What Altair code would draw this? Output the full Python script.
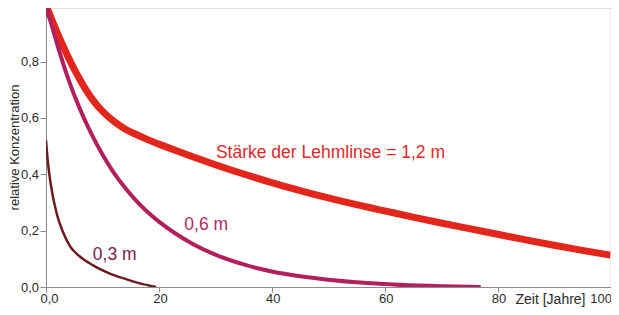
import altair as alt
import pandas as pd

# Stärke der Lehmlinse = 1,2 m
red_t = [0, 1, 2, 3, 4, 5, 6, 7, 8, 9, 10, 12, 14, 16, 18, 20, 23, 26, 30, 35, 40, 45, 50, 55, 60, 65, 70, 75, 80, 85, 90, 95, 100]
red_c = [1.0, 0.95, 0.902, 0.856, 0.813, 0.773, 0.736, 0.702, 0.672, 0.646, 0.624, 0.588, 0.561, 0.541, 0.523, 0.507,
         0.484, 0.462, 0.434, 0.401, 0.37, 0.342, 0.316, 0.292, 0.27, 0.248, 0.227, 0.207, 0.187, 0.167, 0.148, 0.13, 0.113]

# 0,6 m
pur_t = [0, 2, 4, 6, 8, 10, 12, 14, 16, 18, 20, 23, 26, 30, 35, 40, 45, 50, 55, 60, 65, 70, 77]
pur_c = [1.0, 0.86, 0.735, 0.632, 0.545, 0.47, 0.406, 0.352, 0.306, 0.266, 0.232, 0.189, 0.153, 0.115, 0.08, 0.055,
         0.038, 0.026, 0.017, 0.011, 0.006, 0.003, 0.0]

# 0,3 m
drk_t = [0, 0.35, 0.8, 1.9, 3, 4.3, 6, 8.4, 11, 14.3, 17, 19.5]
drk_c = [0.52, 0.44, 0.37, 0.26, 0.195, 0.143, 0.108, 0.076, 0.05, 0.027, 0.011, 0.0]

# annotations
lab_text = ["Stärke der Lehmlinse = 1,2 m", "0,6 m", "0,3 m"]
lab_t = [30.1, 24.5, 8.3]
lab_c = [0.4595, 0.2023, 0.0958]
lab_col = ["#e0282a", "#b02a64", "#7e2050"]

x_ticks = [0, 20, 40, 60, 80, 100]
y_ticks = [0, 0.2, 0.4, 0.6, 0.8]

AX = "#8c8c8c"
TXT = "#2b2b2b"
FONT = "Liberation Sans"

X = alt.X(
    "t:Q",
    scale=alt.Scale(domain=[0, 100], nice=False),
    axis=alt.Axis(
        values=x_ticks,
        labelExpr="datum.value == 0 ? '0,0' : format(datum.value, 'd')",
        labelAlign={"condition": {"test": "datum.value == 100", "value": "right"}, "value": "center"},
        labelOffset={"condition": {"test": "datum.value == 0", "value": 3}, "value": 1},
        labelFlush=False,
        labelOverlap=False,
        grid=False,
        tickSize=5,
        tickColor=AX,
        domainColor=AX,
        labelFontSize=13,
        labelColor=TXT,
        labelFont=FONT,
        labelPadding=0,
        title="Zeit [Jahre]",
        titleX=504,
        titleY=16,
        titleAlign="center",
        titleBaseline="alphabetic",
        titleFontWeight="normal",
        titleFontSize=14,
        titleColor=TXT,
        titleFont=FONT,
    ),
)

Y = alt.Y(
    "c:Q",
    scale=alt.Scale(domain=[0, 0.99], nice=False),
    axis=alt.Axis(
        values=y_ticks,
        labelExpr="replace(format(datum.value, '.1f'), '.', ',')",
        grid=False,
        tickSize=6,
        tickColor=AX,
        domainColor=AX,
        labelFontSize=13,
        labelColor=TXT,
        labelFont=FONT,
        labelPadding=1.5,
        title="relative Konzentration",
        titleX=-31.5,
        titleY=139,
        titleAngle=270,
        titleAlign="center",
        titleBaseline="middle",
        titleFontWeight="normal",
        titleFontSize=13,
        titleColor=TXT,
        titleFont=FONT,
    ),
)

red_df = pd.DataFrame({"t": red_t, "c": red_c})
pur_df = pd.DataFrame({"t": pur_t, "c": pur_c})
drk_df = pd.DataFrame({"t": drk_t, "c": drk_c})
lab_df = pd.DataFrame({"t": lab_t, "c": lab_c, "txt": lab_text, "col": lab_col})

red = alt.Chart(red_df).mark_line(color="#e2261c", strokeWidth=7, interpolate="monotone", clip=True).encode(x=X, y=Y)
pur = alt.Chart(pur_df).mark_line(color="#b31f5c", strokeWidth=4, interpolate="monotone", clip=True).encode(x=X, y=Y)
drk = alt.Chart(drk_df).mark_line(color="#6a1b1d", strokeWidth=2.5, interpolate="monotone", clip=True).encode(x=X, y=Y)
labels = alt.Chart(lab_df).mark_text(
    align="left", baseline="alphabetic", fontSize=17.5, font=FONT
).encode(x=X, y=Y, text="txt:N", color=alt.Color("col:N", scale=None))

chart = (
    alt.layer(red, pur, drk, labels)
    .properties(
        width=564.5,
        height=279,
        padding={"left": 38, "top": 0, "right": 0, "bottom": 20},
        autosize="none",
    )
    .configure_view(stroke="#9a9a9a", strokeWidth=1)
    .configure(background="white")
)

chart.save("out.html", embed_options={"renderer": "svg", "actions": False})
